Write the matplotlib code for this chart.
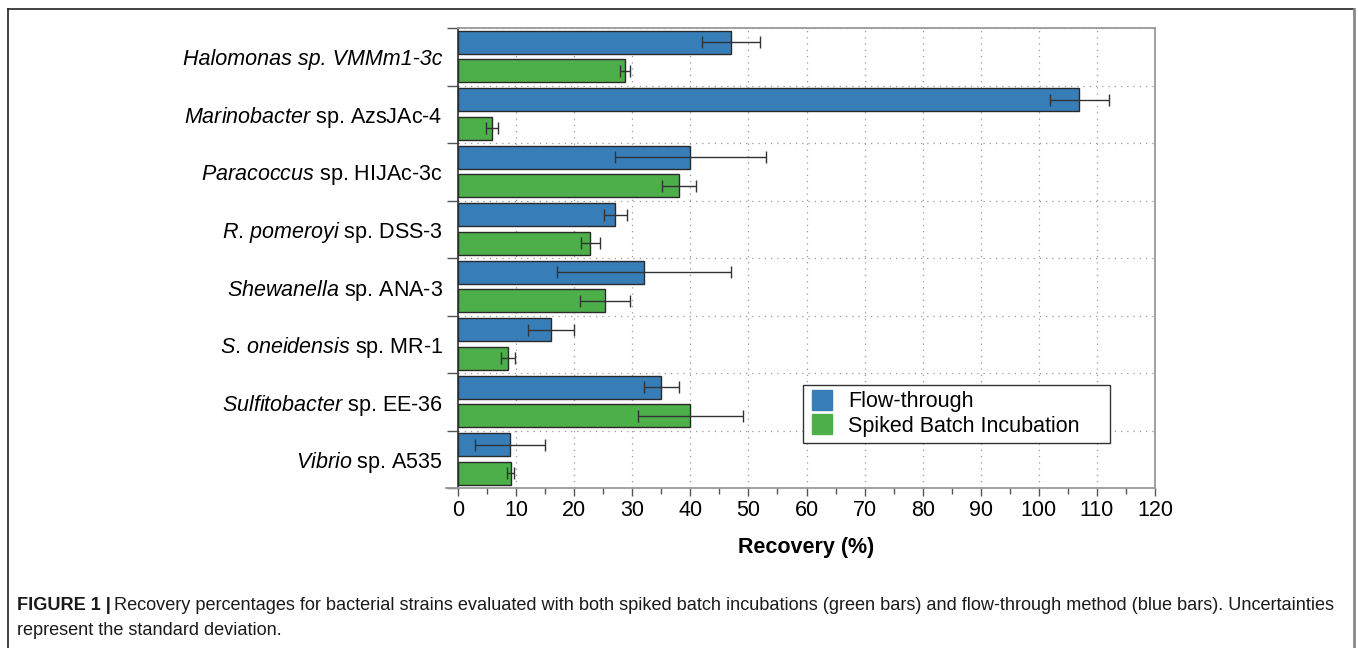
import matplotlib.pyplot as plt
import numpy as np
from matplotlib.lines import Line2D

strains = ['Halomonas sp. VMMm1-3c',
           r'$\mathit{Marinobacter}$ sp. AzsJAc-4',
           r'$\mathit{Paracoccus}$ sp. HIJAc-3c',
           r'$\mathit{R}$. $\mathit{pomeroyi}$ sp. DSS-3',
           r'$\mathit{Shewanella}$ sp. ANA-3',
           r'$\mathit{S}$. $\mathit{oneidensis}$ sp. MR-1',
           r'$\mathit{Sulfitobacter}$ sp. EE-36',
           r'$\mathit{Vibrio}$ sp. A535']
flow_vals = [47, 107, 40, 27.1, 32, 16, 35, 9]
flow_err = [5, 5, 13, 2, 15, 4, 3, 6]
batch_vals = [28.7, 5.9, 38.1, 22.8, 25.3, 8.6, 40, 9.1]
batch_err = [0.85, 1.0, 2.9, 1.7, 4.3, 1.2, 9, 0.6]
x_ticks = np.arange(0, 121, 10)

plt.rcParams['font.family'] = ['Liberation Sans', 'DejaVu Sans']
plt.rcParams['mathtext.fontset'] = 'custom'
plt.rcParams['mathtext.it'] = 'Liberation Sans:italic'
plt.rcParams['mathtext.rm'] = 'Liberation Sans'

BLUE = '#377eb8'
GREEN = '#4daf4a'
FS = 15.5

fig = plt.figure(figsize=(13.58, 6.48), dpi=100)
ax = fig.add_axes([458 / 1358, 1 - 488 / 648, 697 / 1358, 460 / 648])

y = np.arange(len(strains))
h = 0.4
ax.barh(y - 0.255, flow_vals, height=h, color=BLUE, edgecolor='#2a2a2a',
        linewidth=1, label='Flow-through', zorder=3)
ax.barh(y + 0.245, batch_vals, height=h, color=GREEN, edgecolor='#2a2a2a',
        linewidth=1, label='Spiked Batch Incubation', zorder=3)
ax.errorbar(flow_vals, y - 0.255, xerr=flow_err, fmt='none', ecolor='#333333',
            elinewidth=1, capsize=4, capthick=1, zorder=4)
ax.errorbar(batch_vals, y + 0.245, xerr=batch_err, fmt='none', ecolor='#333333',
            elinewidth=1, capsize=4, capthick=1, zorder=4)

ax.set_xlim(0, 120)
ax.set_ylim(len(strains) - 0.5, -0.5)
ax.set_xticks(x_ticks)
ax.set_xticks(np.arange(5, 120, 10), minor=True)
ax.set_yticks(y)
ax.set_yticklabels(strains, fontsize=FS)
ax.get_yticklabels()[0].set_fontstyle('italic')
ax.set_yticks(np.arange(-0.5, len(strains), 1), minor=True)
ax.tick_params(axis='y', which='major', length=0, pad=11)
ax.tick_params(axis='y', which='minor', length=8, width=1, color='#555555')
ax.tick_params(axis='x', which='major', length=6, width=1, color='#555555',
               labelsize=FS, pad=3)
ax.tick_params(axis='x', which='minor', length=4, width=1, color='#555555')

ax.grid(True, axis='x', which='major', linestyle=(0, (1, 4)), color='#999999',
        linewidth=0.9, zorder=0)
ax.grid(True, axis='y', which='minor', linestyle=(0, (1, 4)), color='#999999',
        linewidth=0.9, zorder=0)

for side in ['top', 'right', 'bottom']:
    ax.spines[side].set_color('#999999')
    ax.spines[side].set_linewidth(1.3)
ax.spines['left'].set_color('#333333')
ax.spines['left'].set_linewidth(1.2)
ax.spines['bottom'].set_bounds(-2, 120)

ax.set_xlabel('Recovery (%)', fontsize=FS, fontweight='bold', labelpad=11.5)

handles = [Line2D([], [], marker='s', linestyle='none', markersize=15,
                  markerfacecolor=c, markeredgecolor=c) for c in (BLUE, GREEN)]
leg = ax.legend(handles, ['Flow-through', 'Spiked Batch Incubation'],
                loc='upper left', bbox_to_anchor=(0.495, 0.0, 0.4405, 0.224),
                mode='expand', borderaxespad=0,
                fontsize=FS, fancybox=False, framealpha=1, edgecolor='#333333',
                handletextpad=0.6, handlelength=1.2, labelspacing=0.15,
                borderpad=0.3)
leg.get_frame().set_linewidth(1)

# outer frame
fig.add_artist(Line2D([8 / 1358, 8 / 1358], [0, 1 - 9 / 648], color='#222222',
                      linewidth=1.2, transform=fig.transFigure))
fig.add_artist(Line2D([8 / 1358, 1354 / 1358], [1 - 9 / 648, 1 - 9 / 648],
                      color='#222222', linewidth=1.2, transform=fig.transFigure))
fig.add_artist(Line2D([1354 / 1358, 1354 / 1358], [0, 1 - 9 / 648], color='#888888',
                      linewidth=2, transform=fig.transFigure))

cap_font = ['Liberation Sans Narrow', 'Liberation Sans']
CFS = 13.1
bold = fig.text(17 / 1358, 1 - 610 / 648, 'FIGURE 1 |', fontsize=CFS, fontweight='bold',
                va='baseline', color='#1a1a1a', family=cap_font)
fig.canvas.draw()
bb = bold.get_window_extent().transformed(fig.transFigure.inverted())
fig.text(bb.x1 + 3 / 1358, 1 - 610 / 648,
         'Recovery percentages for bacterial strains evaluated with both spiked batch '
         'incubations (green bars) and flow-through method (blue bars). Uncertainties',
         fontsize=CFS, va='baseline', color='#1a1a1a', family=cap_font)
fig.text(17 / 1358, 1 - 635 / 648, 'represent the standard deviation.', fontsize=CFS,
         va='baseline', color='#1a1a1a', family=cap_font)

fig.savefig('out.png', dpi=100)
